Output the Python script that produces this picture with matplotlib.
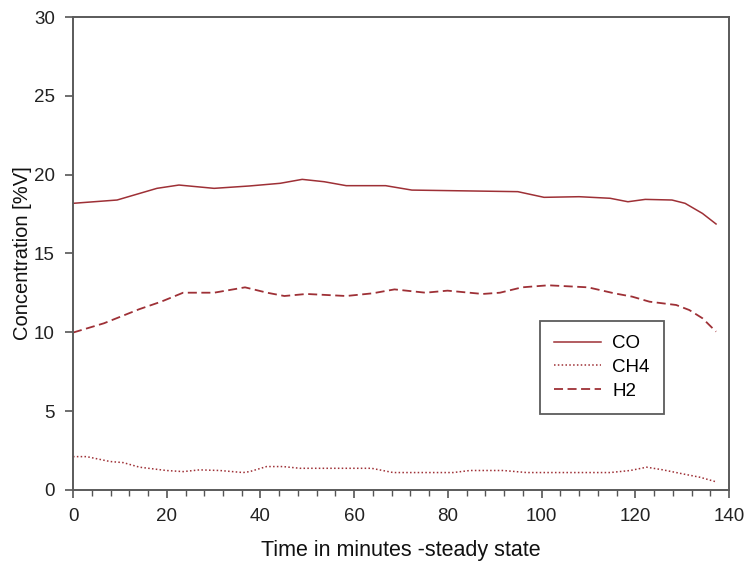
import numpy as np
import matplotlib
matplotlib.use('Agg')
import matplotlib.pyplot as plt
from matplotlib.ticker import MultipleLocator

plt.rcParams['font.family'] = ['Liberation Sans', 'DejaVu Sans']

# CO concentration
t_co = [0, 9.4, 17.9, 22.6, 30.1, 37.6, 44.2, 48.9, 53.6, 58.3, 66.7, 72.3,
        94.9, 100.5, 108, 114.6, 118.4, 122.1, 127.8, 130.6, 134.3, 137.2]
co = [18.18, 18.39, 19.13, 19.34, 19.13, 19.28, 19.45, 19.70, 19.55, 19.30, 19.30, 19.02,
      18.92, 18.56, 18.6, 18.5, 18.28, 18.43, 18.39, 18.18, 17.54, 16.87]

# CH4
t_ch4 = [0, 2.9, 7.9, 10.7, 14.2, 19.9, 23.5, 27.0, 31.3, 36.3, 37.7, 41.3, 44.8, 48.4,
         63.7, 68.3, 81.1, 84.7, 91.8, 96.8, 114.6, 118.9, 122.4, 125.9, 130.2, 133.8, 137]
ch4 = [2.11, 2.11, 1.80, 1.73, 1.44, 1.23, 1.16, 1.27, 1.23, 1.10, 1.16, 1.48, 1.48, 1.37,
       1.37, 1.10, 1.10, 1.23, 1.23, 1.10, 1.10, 1.23, 1.44, 1.27, 1.01, 0.80, 0.53]

# H2
t_h2 = [0, 6.6, 14.1, 18.8, 23.5, 30.1, 36.7, 41.4, 45.1, 49.8, 58.3, 63.9, 68.6, 75.2,
        79.9, 87.4, 91.1, 95.8, 101.4, 109.9, 115.5, 119.3, 123, 128.7, 131.5, 134.3, 137.2]
h2 = [9.98, 10.57, 11.46, 11.94, 12.51, 12.51, 12.85, 12.51, 12.30, 12.43, 12.30, 12.47, 12.72, 12.51,
      12.64, 12.43, 12.51, 12.85, 12.98, 12.85, 12.47, 12.26, 11.94, 11.73, 11.41, 10.89, 10.04]

col = '#9e3036'

fig = plt.figure(figsize=(7.49, 5.67), dpi=100)
ax = fig.add_axes([0.0975, 0.136, 0.876, 0.834])

ax.plot(t_co, co, color=col, lw=1.1, ls='-', label='CO')
ax.plot(t_ch4, ch4, color=col, lw=1.1, ls=(0, (1, 1.5)), label='CH4')
ax.plot(t_h2, h2, color=col, lw=1.3, ls=(0, (5, 2.5)), label='H2')

ax.set_xlim(0, 140)
ax.set_ylim(0, 30)
ax.xaxis.set_major_locator(MultipleLocator(20))
ax.xaxis.set_minor_locator(MultipleLocator(4))
ax.yaxis.set_major_locator(MultipleLocator(5))
ax.tick_params(axis='both', which='major', direction='out', length=6, width=1.2,
               colors='#555555', labelcolor='#222222', labelsize=13.5, pad=7)
ax.tick_params(axis='x', which='minor', direction='out', length=4, width=1.0, colors='#555555')
ax.tick_params(top=False, right=False)

for sp in ax.spines.values():
    sp.set_color('#5a5a5a')
    sp.set_linewidth(1.4)

ax.set_xlabel('Time in minutes -steady state', fontsize=15.5, labelpad=11, color='#111111')
ax.set_ylabel('Concentration [%V]', fontsize=14.5, color='#111111')
ax.yaxis.set_label_coords(-0.062, 0.5)

leg = ax.legend(loc='upper left', bbox_to_anchor=(0.712, 0.357), fontsize=13.5,
                frameon=True, fancybox=False, edgecolor='#333333',
                handlelength=2.5, borderpad=0.75, labelspacing=0.35, handletextpad=0.6,
                borderaxespad=0)
leg.get_frame().set_linewidth(1.3)

fig.savefig('out.png', dpi=100)
